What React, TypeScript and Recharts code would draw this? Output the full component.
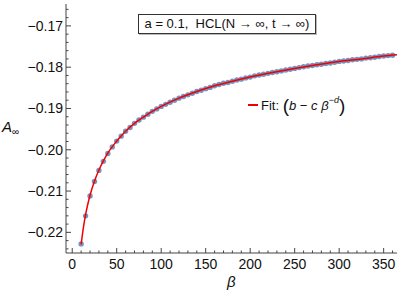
import React from "react";
import { ComposedChart, Scatter, Line, XAxis, YAxis } from "recharts";

// Data points: beta values and measured A_inf
const betaValues = [
  10, 15, 20, 25, 30, 35, 40, 45, 50, 55, 60, 65, 70, 75, 80, 85, 90, 95, 100,
  105, 110, 115, 120, 125, 130, 135, 140, 145, 150, 155, 160, 165, 170, 175,
  180, 185, 190, 195, 200, 205, 210, 215, 220, 225, 230, 235, 240, 245, 250,
  255, 260, 265, 270, 275, 280, 285, 290, 295, 300, 305, 310, 315, 320, 325,
  330, 335, 340, 345, 350, 355, 360,
];
const aValues = [
  -0.2228, -0.2160, -0.2112, -0.2077, -0.2050, -0.2028, -0.2009, -0.1993,
  -0.1979, -0.1967, -0.1955, -0.1946, -0.1936, -0.1928, -0.1921, -0.1914,
  -0.1907, -0.1901, -0.1895, -0.1890, -0.1885, -0.1880, -0.1875, -0.1871,
  -0.1867, -0.1863, -0.1859, -0.1856, -0.1852, -0.1849, -0.1845, -0.1842,
  -0.1839, -0.1837, -0.1834, -0.1831, -0.1829, -0.1826, -0.1824, -0.1821,
  -0.1819, -0.1817, -0.1815, -0.1813, -0.1811, -0.1809, -0.1807, -0.1805,
  -0.1803, -0.1801, -0.1799, -0.1797, -0.1796, -0.1794, -0.1793, -0.1791,
  -0.1790, -0.1788, -0.1786, -0.1785, -0.1784, -0.1782, -0.1781, -0.1780,
  -0.1778, -0.1777, -0.1776, -0.1774, -0.1773, -0.1772, -0.1771,
];

// Fit curve b - c*beta^-d
const fitBeta = [
  10, 12.5, 15, 17.5, 20, 25, 30, 35, 40, 50, 60, 70, 80, 90, 100, 120, 140,
  160, 180, 200, 225, 250, 275, 300, 325, 350, 365,
];
const fitValues = [
  -0.2229, -0.2189, -0.2157, -0.2132, -0.2110, -0.2076, -0.2049, -0.2027,
  -0.2008, -0.1979, -0.1955, -0.1936, -0.1921, -0.1907, -0.1895, -0.1875,
  -0.1859, -0.1845, -0.1834, -0.1824, -0.1813, -0.1803, -0.1794, -0.1786,
  -0.1780, -0.1773, -0.1770,
];

const xMajorTicks = [0, 50, 100, 150, 200, 250, 300, 350];
const yMajorTicks = [-0.22, -0.21, -0.2, -0.19, -0.18, -0.17];

const xTicks: number[] = [];
for (let i = 0; i <= 36; i++) xTicks.push(i * 10);
const yTicks: number[] = [];
for (let i = 0; i <= 29; i++) yTicks.push(Math.round((-0.224 + i * 0.002) * 1000) / 1000);

const points = betaValues.map((b, i) => ({ x: b, y: aValues[i] }));
const fitData = fitBeta.map((b, i) => ({ x: b, y: fitValues[i] }));

const FRAME = "#444";
const FONT = "'Liberation Sans', Arial, sans-serif";

const isXMajor = (v: number) => xMajorTicks.some((t) => Math.abs(t - v) < 1e-6);
const isYMajor = (v: number) => yMajorTicks.some((t) => Math.abs(t - v) < 1e-6);

const fmtY = (v: number) => {
  const s = Math.abs(v).toFixed(2);
  return (v < 0 ? "\u2212" : "") + s;
};

const XTick = (props: any) => {
  const { x, y, payload, side } = props;
  const v = payload.value;
  const major = isXMajor(v);
  const len = major ? 5 : 2.5;
  const dir = side === "bottom" ? -1 : 1;
  return (
    <g>
      <line x1={x} x2={x} y1={y} y2={y + dir * len} stroke={FRAME} strokeWidth={1} />
      {side === "bottom" && major && (
        <text x={x} y={y + 11} dy="0.35em" textAnchor="middle" fontSize={14} fontFamily={FONT} fill="#111">
          {v}
        </text>
      )}
    </g>
  );
};

const YTick = (props: any) => {
  const { x, y, payload, side } = props;
  const v = payload.value;
  const major = isYMajor(v);
  const len = major ? 5 : 2.5;
  const dir = side === "left" ? 1 : -1;
  return (
    <g>
      <line x1={x} x2={x + dir * len} y1={y} y2={y} stroke={FRAME} strokeWidth={1} />
      {side === "left" && major && (
        <text x={x - 3} y={y} dy="0.35em" textAnchor="end" fontSize={14} fontFamily={FONT} fill="#111">
          {fmtY(v)}
        </text>
      )}
    </g>
  );
};

const Dot = (props: any) => {
  const { cx, cy } = props;
  return <circle cx={cx} cy={cy} r={2.7} fill="#5E81B5" fillOpacity={0.85} />;
};

export default function App() {
  return (
    <div style={{ position: "absolute", left: 0, top: 0, width: 399, height: 299, background: "#fff" }}>
      <ComposedChart
        width={399}
        height={299}
        margin={{ top: 4, right: 2, bottom: 0, left: 0 }}
      >
        <XAxis
          xAxisId="b"
          dataKey="x"
          type="number"
          domain={[-7, 365]}
          allowDataOverflow
          ticks={xTicks}
          interval={0}
          tickSize={0}
          tickMargin={0}
          tickLine={false}
          height={46}
          axisLine={{ stroke: FRAME }}
          tick={<XTick side="bottom" />}
        />
        <XAxis
          xAxisId="t"
          orientation="top"
          dataKey="x"
          type="number"
          domain={[-7, 365]}
          allowDataOverflow
          ticks={xTicks}
          interval={0}
          tickSize={0}
          tickMargin={0}
          tickLine={false}
          height={0}
          axisLine={{ stroke: FRAME }}
          tick={<XTick side="top" />}
        />
        <YAxis
          yAxisId="l"
          dataKey="y"
          type="number"
          domain={[-0.225, -0.1647]}
          allowDataOverflow
          ticks={yTicks}
          interval={0}
          tickSize={0}
          tickMargin={0}
          tickLine={false}
          width={66}
          axisLine={{ stroke: FRAME }}
          tick={<YTick side="left" />}
        />
        <YAxis
          yAxisId="r"
          orientation="right"
          dataKey="y"
          type="number"
          domain={[-0.225, -0.1647]}
          allowDataOverflow
          ticks={yTicks}
          interval={0}
          tickSize={0}
          tickMargin={0}
          tickLine={false}
          width={0}
          axisLine={{ stroke: FRAME }}
          tick={<YTick side="right" />}
        />
        <Scatter
          xAxisId="b"
          yAxisId="l"
          data={points}
          dataKey="y"
          shape={<Dot />}
          zIndex={500}
          isAnimationActive={false}
        />
        <Line
          xAxisId="b"
          yAxisId="l"
          data={fitData}
          dataKey="y"
          type="monotone"
          stroke="#F00000"
          strokeWidth={1.5}
          dot={false}
          activeDot={false}
          zIndex={700}
          isAnimationActive={false}
        />
      </ComposedChart>

      {/* Title box */}
      <div
        style={{
          position: "absolute",
          left: 138,
          top: 14,
          width: 178,
          height: 20,
          boxSizing: "border-box",
          border: "1px solid #333",
          boxShadow: "1px 1px 0 #bbb",
          background: "#fff",
          fontFamily: FONT,
          fontSize: 13,
          lineHeight: "18px",
          textAlign: "center",
          whiteSpace: "nowrap",
          color: "#111",
        }}
      >
        a = 0.1,&nbsp; HCL(N → ∞, t → ∞)
      </div>

      {/* Fit legend */}
      <div
        style={{
          position: "absolute",
          left: 248,
          top: 94,
          height: 22,
          display: "flex",
          alignItems: "center",
          fontFamily: FONT,
          fontSize: 13,
          color: "#111",
          whiteSpace: "nowrap",
        }}
      >
        <span style={{ display: "inline-block", width: 10, height: 2, background: "#F00000", marginRight: 3 }} />
        <span>Fit:&nbsp;</span>
        <span style={{ fontSize: 19, lineHeight: "19px" }}>(</span>
        <span style={{ fontStyle: "italic" }}>b</span>
        <span>&nbsp;−&nbsp;</span>
        <span style={{ fontStyle: "italic" }}>c</span>
        <span>&nbsp;</span>
        <span style={{ fontStyle: "italic" }}>β</span>
        <span style={{ fontSize: 9, position: "relative", top: -5 }}>
          −<span style={{ fontStyle: "italic" }}>d</span>
        </span>
        <span style={{ fontSize: 19, lineHeight: "19px" }}>)</span>
      </div>

      {/* Y label */}
      <div
        style={{
          position: "absolute",
          left: 2,
          top: 118,
          fontFamily: FONT,
          fontSize: 15,
          color: "#111",
          whiteSpace: "nowrap",
        }}
      >
        <span style={{ fontStyle: "italic" }}>A</span>
        <span style={{ fontSize: 10, position: "relative", top: 3 }}>∞</span>
      </div>

      {/* X label */}
      <div
        style={{
          position: "absolute",
          left: 227,
          top: 273,
          fontFamily: FONT,
          fontSize: 15,
          fontStyle: "italic",
          color: "#111",
        }}
      >
        β
      </div>
    </div>
  );
}
